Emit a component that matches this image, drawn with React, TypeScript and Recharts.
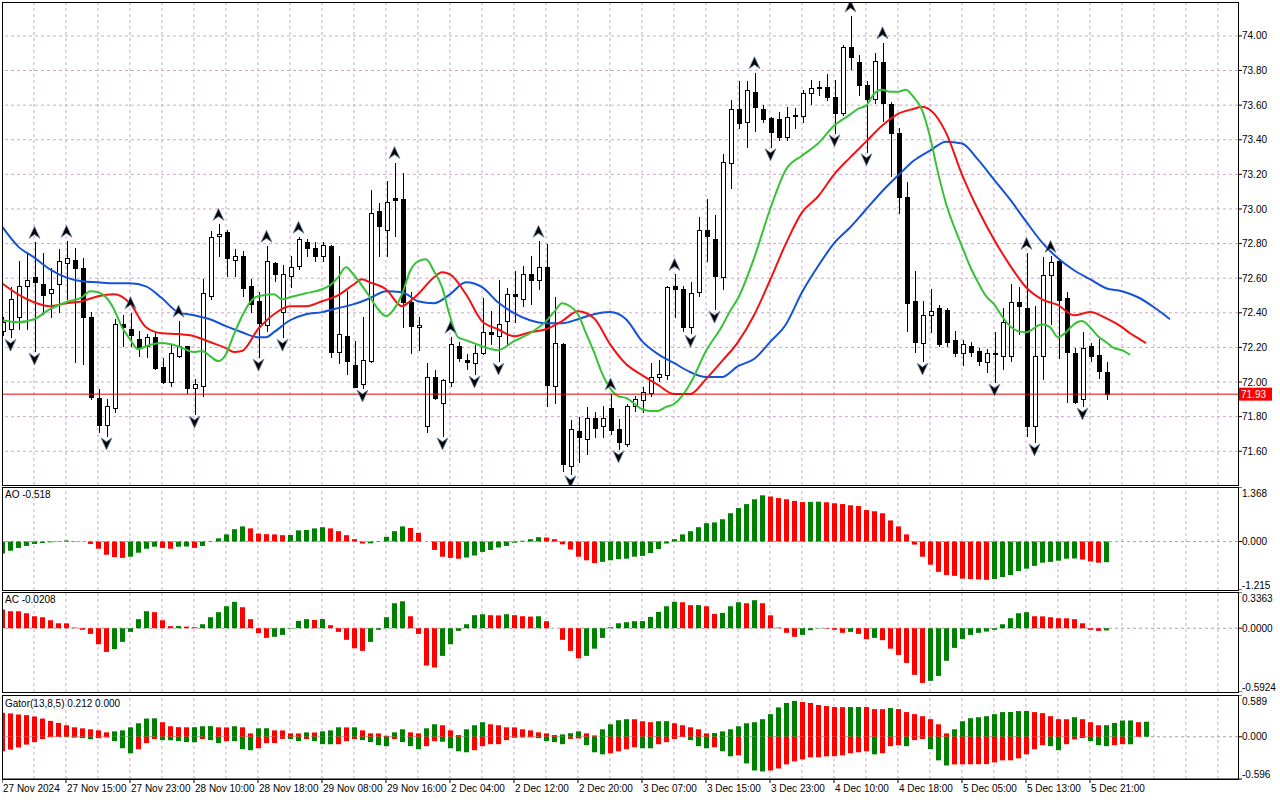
import React from 'react';
import { ComposedChart, Bar, Line, XAxis, YAxis, ReferenceLine, Cell } from 'recharts';

const FONT = '"Liberation Sans", Arial, sans-serif';
const GREEN = '#008000';
const RED = '#ff0000';
const GRID = '#c9a9c9';
const ZERO = '#aaa0aa';

// ---------- candles (one hourly bar per slot) ----------
const open = [
  72.294, 72.305, 72.375, 72.553, 72.605, 72.565, 72.513, 72.565, 72.686, 72.703,
  72.657, 72.375, 71.908, 71.752, 71.850, 72.334, 72.305, 72.248, 72.207, 72.259,
  72.087, 72.000, 72.150, 72.207, 71.965, 71.977, 72.496, 72.841, 72.865, 72.703,
  72.726, 72.553, 72.467, 72.329, 72.686, 72.404, 72.611, 72.669, 72.807, 72.772,
  72.726, 72.784, 72.173, 72.265, 72.098, 71.988, 72.121, 72.986, 72.876, 73.061,
  73.055, 72.461, 72.317, 71.746, 72.029, 71.879, 72.000, 72.207, 72.127, 72.110,
  72.167, 72.288, 72.265, 72.352, 72.507, 72.478, 72.622, 72.588, 72.663, 71.977,
  72.219, 71.516, 71.718, 71.671, 71.792, 71.746, 71.850, 71.729, 71.643, 71.862,
  71.896, 71.937, 72.029, 72.040, 72.553, 72.536, 72.317, 72.519, 72.876, 72.824,
  72.605, 73.268, 73.579, 73.504, 73.677, 73.579, 73.527, 73.522, 73.418, 73.539,
  73.539, 73.671, 73.700, 73.706, 73.648, 73.556, 73.937, 73.850, 73.718, 73.637,
  73.850, 73.608, 73.441, 73.072, 72.467, 72.225, 72.386, 72.427, 72.415, 72.242,
  72.167, 72.207, 72.179, 72.115, 72.167, 72.150, 72.150, 72.461, 72.427, 71.746,
  72.150, 72.617, 72.697, 72.484, 72.167, 71.902, 72.207, 72.156, 72.058,
];
const high = [
  72.375, 72.548, 72.697, 72.743, 72.807, 72.743, 72.657, 72.767, 72.813, 72.772,
  72.715, 72.404, 71.960, 71.902, 72.363, 72.385, 72.400, 72.294, 72.277, 72.288,
  72.138, 72.213, 72.352, 72.207, 72.017, 72.594, 72.870, 72.911, 72.876, 72.767,
  72.755, 72.594, 72.519, 72.784, 72.692, 72.674, 72.726, 72.836, 72.824, 72.807,
  72.807, 72.790, 72.726, 72.525, 72.236, 72.375, 73.112, 73.037, 73.164, 73.268,
  73.210, 72.519, 72.375, 72.110, 72.069, 72.017, 72.259, 72.231, 72.161, 72.213,
  72.484, 72.409, 72.588, 72.542, 72.640, 72.669, 72.726, 72.813, 72.795, 72.490,
  72.225, 71.781, 71.798, 71.856, 71.827, 71.862, 71.931, 71.787, 71.873, 71.919,
  71.971, 72.110, 72.127, 72.553, 72.622, 72.553, 72.576, 72.951, 73.055, 72.963,
  73.320, 73.631, 73.741, 73.741, 73.787, 73.602, 73.533, 73.562, 73.591, 73.585,
  73.689, 73.746, 73.741, 73.781, 73.746, 73.948, 74.115, 73.890, 73.741, 73.902,
  73.960, 73.620, 73.470, 73.158, 72.640, 72.467, 72.536, 72.444, 72.427, 72.294,
  72.242, 72.231, 72.196, 72.190, 72.288, 72.427, 72.565, 72.548, 72.743, 72.438,
  72.720, 72.726, 72.709, 72.519, 72.196, 72.288, 72.225, 72.248, 72.115,
];
const low = [
  72.271, 72.259, 72.305, 72.305, 72.179, 72.392, 72.375, 72.404, 72.478, 72.115,
  72.104, 71.902, 71.712, 71.689, 71.827, 72.207, 72.207, 72.150, 72.144, 72.075,
  71.994, 71.977, 72.144, 71.937, 71.815, 71.919, 72.478, 72.726, 72.611, 72.611,
  72.496, 72.404, 72.144, 72.294, 72.582, 72.259, 72.548, 72.651, 72.726, 72.697,
  72.697, 72.144, 72.110, 72.046, 71.975, 71.965, 72.115, 72.726, 72.726, 72.841,
  72.317, 72.167, 72.184, 71.712, 71.902, 71.689, 71.977, 72.121, 72.075, 72.046,
  72.161, 72.219, 72.121, 72.219, 72.346, 72.438, 72.450, 72.536, 71.862, 71.879,
  71.487, 71.470, 71.539, 71.585, 71.683, 71.683, 71.700, 71.614, 71.630, 71.833,
  71.827, 71.919, 72.006, 72.017, 72.375, 72.294, 72.282, 72.496, 72.697, 72.421,
  72.536, 73.124, 73.470, 73.360, 73.452, 73.504, 73.360, 73.401, 73.401, 73.470,
  73.504, 73.608, 73.660, 73.631, 73.441, 73.545, 73.810, 73.660, 73.331, 73.614,
  73.510, 73.193, 72.974, 72.294, 72.173, 72.121, 72.288, 72.207, 72.207, 72.150,
  72.098, 72.150, 72.098, 72.058, 72.000, 72.075, 72.121, 72.277, 71.689, 71.654,
  72.017, 72.334, 72.138, 71.885, 71.879, 71.862, 72.121, 72.023, 71.902,
];
const close = [
  72.346, 72.478, 72.553, 72.588, 72.576, 72.501, 72.536, 72.697, 72.715, 72.657,
  72.375, 71.913, 71.752, 71.862, 72.334, 72.317, 72.271, 72.202, 72.259, 72.081,
  72.000, 72.167, 72.207, 71.965, 71.988, 72.513, 72.836, 72.853, 72.715, 72.726,
  72.542, 72.450, 72.340, 72.697, 72.622, 72.622, 72.663, 72.824, 72.772, 72.726,
  72.790, 72.173, 72.277, 72.121, 71.971, 72.127, 72.974, 72.899, 73.043, 73.049,
  72.461, 72.323, 72.329, 72.029, 71.908, 72.012, 72.219, 72.138, 72.115, 72.167,
  72.288, 72.277, 72.334, 72.507, 72.496, 72.622, 72.588, 72.663, 71.983, 72.225,
  71.527, 71.729, 71.683, 71.792, 71.735, 71.792, 71.723, 71.654, 71.862, 71.902,
  71.942, 72.029, 72.046, 72.548, 72.536, 72.317, 72.513, 72.876, 72.841, 72.611,
  73.274, 73.579, 73.499, 73.689, 73.591, 73.522, 73.447, 73.418, 73.533, 73.542,
  73.671, 73.700, 73.706, 73.648, 73.556, 73.937, 73.879, 73.718, 73.637, 73.856,
  73.614, 73.441, 73.072, 72.455, 72.231, 72.386, 72.409, 72.219, 72.231, 72.167,
  72.219, 72.173, 72.121, 72.167, 72.161, 72.346, 72.461, 72.438, 71.746, 72.150,
  72.617, 72.692, 72.473, 72.173, 71.885, 72.196, 72.150, 72.063, 71.930,
];

// ---------- fractal bars ----------
const fractalUp = [4, 8, 16, 22, 27, 33, 37, 49, 56, 67, 76, 84, 94, 106, 110, 128, 131];
const fractalDown = [1, 4, 13, 24, 32, 35, 45, 55, 59, 62, 71, 77, 86, 89, 96, 104, 108, 115, 124, 129, 135];

// ---------- Alligator lines [bar, price] ----------
const jawPts: [number, number][] = [
  [0, 72.899], [2, 72.784], [4, 72.72], [6, 72.651], [8, 72.605], [10, 72.582], [12, 72.576], [14, 72.571],
  [16, 72.571], [18, 72.553], [20, 72.484], [22, 72.404], [24, 72.386], [26, 72.363], [28, 72.323], [30, 72.288],
  [32, 72.259], [33, 72.259], [34, 72.288], [36, 72.357], [38, 72.392], [40, 72.404], [42, 72.427], [44, 72.45],
  [46, 72.484], [48, 72.525], [50, 72.519], [52, 72.467], [54, 72.455], [56, 72.507], [58, 72.576], [60, 72.548],
  [62, 72.461], [64, 72.398], [66, 72.357], [68, 72.34], [70, 72.34], [72, 72.363], [74, 72.392], [76, 72.404],
  [78, 72.363], [80, 72.236], [82, 72.161], [84, 72.11], [86, 72.058], [88, 72.029], [90, 72.029], [92, 72.092],
  [94, 72.133], [96, 72.231], [98, 72.334], [100, 72.519], [102, 72.669], [104, 72.801], [106, 72.893], [108, 72.997],
  [110, 73.101], [112, 73.193], [114, 73.28], [116, 73.337], [118, 73.389], [120, 73.378], [122, 73.285], [124, 73.17],
  [126, 73.055], [128, 72.928], [130, 72.807], [132, 72.715], [134, 72.646], [136, 72.594], [138, 72.542], [140, 72.525],
  [142, 72.49], [144, 72.432], [146, 72.363],
];
const teethPts: [number, number][] = [
  [0, 72.571], [2, 72.507], [4, 72.461], [6, 72.438], [8, 72.455], [10, 72.467], [12, 72.496], [14, 72.507],
  [16, 72.455], [18, 72.317], [20, 72.282], [22, 72.277], [24, 72.265], [26, 72.231], [28, 72.196], [29, 72.173],
  [30, 72.179], [32, 72.305], [34, 72.392], [36, 72.438], [38, 72.438], [40, 72.467], [42, 72.501], [44, 72.565],
  [45, 72.594], [46, 72.576], [48, 72.536], [50, 72.438], [51, 72.467], [52, 72.507], [54, 72.605], [55, 72.634],
  [56, 72.622], [58, 72.507], [60, 72.352], [62, 72.305], [64, 72.265], [66, 72.288], [68, 72.305], [70, 72.352],
  [72, 72.409], [74, 72.369], [76, 72.219], [78, 72.104], [80, 72.04], [82, 71.983], [84, 71.931], [86, 71.931],
  [88, 72.017], [90, 72.121], [92, 72.231], [94, 72.386], [96, 72.588], [98, 72.801], [100, 72.98], [102, 73.072],
  [104, 73.199], [106, 73.297], [108, 73.389], [110, 73.481], [112, 73.55], [114, 73.579], [115, 73.591], [116, 73.573],
  [118, 73.441], [120, 73.199], [122, 72.997], [124, 72.824], [126, 72.674], [128, 72.548], [130, 72.478], [132, 72.444],
  [134, 72.386], [136, 72.404], [138, 72.369], [140, 72.317], [141, 72.282], [142, 72.254], [143, 72.225],
];
const lipsPts: [number, number][] = [
  [0, 72.357], [2, 72.346], [4, 72.363], [6, 72.421], [8, 72.461], [10, 72.49], [11, 72.525], [12, 72.519],
  [13, 72.49], [14, 72.421], [15, 72.317], [16, 72.248], [17, 72.19], [18, 72.207], [20, 72.225], [22, 72.207],
  [24, 72.173], [25, 72.179], [26, 72.15], [27, 72.121], [28, 72.161], [29, 72.277], [30, 72.38], [31, 72.461],
  [32, 72.496], [34, 72.507], [35, 72.478], [36, 72.49], [38, 72.513], [40, 72.536], [41, 72.559], [42, 72.605],
  [43, 72.663], [44, 72.617], [46, 72.49], [47, 72.421], [48, 72.38], [49, 72.421], [50, 72.507], [51, 72.64],
  [52, 72.697], [53, 72.709], [54, 72.64], [55, 72.548], [56, 72.38], [57, 72.259], [58, 72.242], [60, 72.207],
  [62, 72.184], [64, 72.236], [66, 72.282], [68, 72.352], [69, 72.404], [70, 72.455], [71, 72.438], [72, 72.392],
  [73, 72.282], [74, 72.173], [75, 72.052], [76, 71.965], [77, 71.919], [78, 71.908], [80, 71.844], [81, 71.833],
  [82, 71.833], [83, 71.856], [84, 71.873], [85, 71.919], [86, 71.988], [88, 72.179], [90, 72.323], [91, 72.409],
  [92, 72.484], [94, 72.715], [96, 72.997], [98, 73.228], [100, 73.308], [102, 73.378], [104, 73.481], [106, 73.545],
  [107, 73.579], [108, 73.597], [109, 73.666], [110, 73.689], [111, 73.677], [112, 73.677], [113, 73.689], [114, 73.643],
  [115, 73.573], [116, 73.418], [117, 73.21], [118, 73.032], [119, 72.899], [120, 72.784], [121, 72.669], [122, 72.576],
  [123, 72.496], [124, 72.45], [125, 72.38], [126, 72.323], [127, 72.294], [128, 72.288], [130, 72.334], [131, 72.317],
  [132, 72.259], [133, 72.288], [134, 72.334], [135, 72.352], [136, 72.317], [137, 72.265], [138, 72.231], [139, 72.196],
  [140, 72.184], [141, 72.156],
];

// ---------- Awesome Oscillator ----------
const ao = [
  -0.30, -0.23, -0.16, -0.11, -0.06, -0.035, -0.02, -0.01, 0.025, 0.01,
  -0.005, -0.06, -0.18, -0.33, -0.39, -0.41, -0.38, -0.28, -0.18, -0.13,
  -0.16, -0.18, -0.13, -0.125, -0.16, -0.11, -0.01, 0.08, 0.18, 0.31,
  0.38, 0.33, 0.20, 0.185, 0.18, 0.16, 0.165, 0.28, 0.29, 0.33,
  0.36, 0.33, 0.26, 0.16, 0.06, -0.05, -0.045, -0.01, 0.12, 0.26,
  0.38, 0.34, 0.22, 0.0, -0.21, -0.38, -0.41, -0.43, -0.40, -0.35,
  -0.26, -0.21, -0.15, -0.11, -0.03, 0.02, 0.06, 0.11, 0.10, 0.06,
  -0.07, -0.20, -0.38, -0.47, -0.54, -0.51, -0.47, -0.44, -0.43, -0.38,
  -0.36, -0.29, -0.19, -0.05, 0.06, 0.18, 0.26, 0.36, 0.46, 0.48,
  0.56, 0.71, 0.84, 0.94, 1.06, 1.16, 1.13, 1.09, 1.06, 1.02,
  0.99, 0.995, 1.0, 0.985, 0.96, 0.94, 0.91, 0.89, 0.79, 0.76,
  0.71, 0.53, 0.38, 0.18, -0.075, -0.38, -0.58, -0.76, -0.84, -0.86,
  -0.93, -0.94, -0.95, -0.96, -0.94, -0.89, -0.84, -0.74, -0.68, -0.61,
  -0.53, -0.51, -0.48, -0.43, -0.425, -0.45, -0.50, -0.53, -0.518,
];

// ---------- Accelerator Oscillator ----------
const ac = [
  0.173, 0.158, 0.157, 0.139, 0.111, 0.102, 0.074, 0.046, 0.045, 0.006,
  -0.015, -0.053, -0.149, -0.22, -0.195, -0.127, -0.034, 0.084, 0.158, 0.149,
  0.074, 0.019, 0.02, 0.015, 0.009, 0.037, 0.102, 0.149, 0.204, 0.245,
  0.195, 0.084, -0.046, -0.09, -0.08, -0.062, -0.004, 0.068, 0.084, 0.077,
  0.085, 0.028, -0.034, -0.108, -0.186, -0.21, -0.127, -0.015, 0.102, 0.232,
  0.25, 0.111, -0.053, -0.347, -0.365, -0.257, -0.149, -0.025, 0.037, 0.121,
  0.13, 0.121, 0.119, 0.13, 0.121, 0.111, 0.108, 0.111, 0.065, 0.0,
  -0.108, -0.21, -0.28, -0.257, -0.19, -0.09, 0.009, 0.046, 0.056, 0.065,
  0.066, 0.105, 0.152, 0.204, 0.245, 0.241, 0.214, 0.215, 0.204, 0.133,
  0.142, 0.204, 0.241, 0.232, 0.26, 0.232, 0.12, 0.006, -0.043, -0.08,
  -0.062, -0.019, -0.003, -0.005, -0.015, -0.043, -0.034, -0.053, -0.102, -0.09,
  -0.111, -0.19, -0.248, -0.322, -0.433, -0.508, -0.489, -0.443, -0.303, -0.183,
  -0.102, -0.062, -0.043, -0.031, -0.015, 0.037, 0.093, 0.139, 0.149, 0.111,
  0.11, 0.102, 0.093, 0.092, 0.084, 0.046, -0.015, -0.025, -0.0208,
];

// ---------- Gator Oscillator ----------
const gatorUpper = [
  0.338, 0.329, 0.314, 0.305, 0.286, 0.257, 0.224, 0.195, 0.162, 0.133,
  0.119, 0.105, 0.09, 0.062, 0.076, 0.09, 0.133, 0.19, 0.257, 0.26,
  0.205, 0.148, 0.135, 0.133, 0.135, 0.148, 0.15, 0.133, 0.132, 0.148,
  0.133, 0.048, 0.119, 0.12, 0.09, 0.089, 0.048, 0.047, 0.062, 0.06,
  0.076, 0.09, 0.133, 0.132, 0.133, 0.09, 0.048, 0.047, 0.014, 0.062,
  0.105, 0.062, 0.048, 0.119, 0.176, 0.162, 0.09, 0.024, 0.105, 0.162,
  0.205, 0.176, 0.162, 0.133, 0.132, 0.105, 0.09, 0.062, 0.048, 0.024,
  0.033, 0.05, 0.076, 0.048, 0.019, 0.105, 0.176, 0.233, 0.248, 0.247,
  0.219, 0.205, 0.219, 0.22, 0.19, 0.162, 0.133, 0.105, 0.048, 0.052,
  0.076, 0.105, 0.148, 0.19, 0.205, 0.248, 0.319, 0.414, 0.476, 0.505,
  0.49, 0.476, 0.448, 0.433, 0.419, 0.418, 0.419, 0.42, 0.419, 0.39,
  0.389, 0.405, 0.39, 0.348, 0.319, 0.29, 0.248, 0.176, 0.048, 0.105,
  0.219, 0.262, 0.276, 0.29, 0.319, 0.348, 0.349, 0.362, 0.363, 0.348,
  0.333, 0.29, 0.248, 0.247, 0.276, 0.248, 0.205, 0.162, 0.163, 0.195,
  0.229, 0.23, 0.205, 0.212,
];
const gatorLower = [
  -0.205, -0.181, -0.152, -0.11, -0.076, -0.033, -0.005, -0.003, -0.006, -0.012,
  -0.02, -0.035, -0.02, -0.01, -0.062, -0.162, -0.233, -0.176, -0.09, -0.033,
  -0.048, -0.05, -0.06, -0.076, -0.077, -0.033, -0.048, -0.09, -0.062, -0.063,
  -0.176, -0.19, -0.162, -0.09, -0.089, -0.03, -0.033, -0.062, -0.033, -0.062,
  -0.105, -0.106, -0.105, -0.062, -0.033, -0.048, -0.076, -0.119, -0.133, -0.033,
  -0.076, -0.133, -0.176, -0.133, -0.062, -0.07, -0.162, -0.205, -0.219, -0.19,
  -0.133, -0.105, -0.104, -0.048, -0.015, -0.01, -0.008, -0.02, -0.062, -0.076,
  -0.105, -0.03, -0.024, -0.119, -0.219, -0.248, -0.233, -0.205, -0.176, -0.148,
  -0.162, -0.163, -0.105, -0.076, -0.033, -0.003, -0.048, -0.133, -0.162, -0.148,
  -0.205, -0.276, -0.262, -0.376, -0.476, -0.49, -0.476, -0.448, -0.39, -0.348,
  -0.319, -0.29, -0.289, -0.276, -0.275, -0.262, -0.233, -0.219, -0.205, -0.248,
  -0.233, -0.133, -0.119, -0.133, -0.048, -0.033, -0.176, -0.333, -0.405, -0.39,
  -0.389, -0.388, -0.387, -0.386, -0.362, -0.333, -0.332, -0.305, -0.248, -0.176,
  -0.119, -0.133, -0.19, -0.105, -0.038, -0.019, -0.062, -0.119, -0.133, -0.119,
  -0.105, -0.106,
];

// ---------- axes ----------
const priceTicks = [71.6, 71.8, 72.0, 72.2, 72.4, 72.6, 72.8, 73.0, 73.2, 73.4, 73.6, 73.8, 74.0];
const priceDomain = [71.405, 74.196];
const aoDomain = [-1.215, 1.368];
const acDomain = [-0.5924, 0.3363];
const gatorDomain = [-0.596, 0.589];
const timeLabels = [
  '27 Nov 2024', '27 Nov 15:00', '27 Nov 23:00', '28 Nov 10:00', '28 Nov 18:00', '29 Nov 08:00',
  '29 Nov 16:00', '2 Dec 04:00', '2 Dec 12:00', '2 Dec 20:00', '3 Dec 07:00', '3 Dec 15:00',
  '3 Dec 23:00', '4 Dec 10:00', '4 Dec 18:00', '5 Dec 05:00', '5 Dec 13:00', '5 Dec 21:00',
];

const SLOTS = 155;
const LABEL_STEP = 8;
const GRID_STEP = 4;
const labelKs = timeLabels.map((_, i) => i * LABEL_STEP);
const gridKs = Array.from({ length: Math.floor((SLOTS - 1) / GRID_STEP) }, (_, i) => (i + 1) * GRID_STEP);
const last = close.length - 1;
const lastClose = close[last];

const aoColors = ao.map((v, i) => (i === 0 ? GREEN : v > ao[i - 1] ? GREEN : RED));
const acColors = ac.map((v, i) => (i === 0 ? RED : v > ac[i - 1] ? GREEN : RED));
const guColors = gatorUpper.map((v, i) => (i === 0 ? RED : v > gatorUpper[i - 1] ? GREEN : RED));
const glColors = gatorLower.map((v, i) =>
  i === 0 ? RED : Math.abs(v) > Math.abs(gatorLower[i - 1]) ? GREEN : RED
);

const rows: any[] = Array.from({ length: SLOTS }, (_, k) => {
  const r: any = { k };
  if (k <= last) {
    r.o = open[k];
    r.h = high[k];
    r.l = low[k];
    r.c = close[k];
    r.range = [low[k], high[k]];
    r.ao = ao[k];
    r.ac = ac[k];
    r.fu = fractalUp.includes(k) ? high[k] : null;
    r.fd = fractalDown.includes(k) ? low[k] : null;
  }
  if (k < gatorUpper.length) r.gu = gatorUpper[k];
  if (k < gatorLower.length) r.gl = gatorLower[k];
  return r;
});
jawPts.forEach(([k, v]) => (rows[k].jaw = v));
teethPts.forEach(([k, v]) => (rows[k].teeth = v));
lipsPts.forEach(([k, v]) => (rows[k].lips = v));

// ---------- shapes ----------
const Candle = (props: any) => {
  const { x, y, width, height, payload } = props;
  if (!payload || payload.h == null || !isFinite(y) || !isFinite(height)) return <g />;
  const top = Math.min(y, y + height);
  const span = Math.abs(height);
  const { o, h, l, c } = payload;
  const py = (p: number) => top + ((h - p) / (h - l)) * span;
  const cx = Math.round(x + width / 2);
  const bull = c >= o;
  const bTop = Math.round(py(Math.max(o, c)));
  const bBot = Math.round(py(Math.min(o, c)));
  return (
    <g shapeRendering="crispEdges">
      <line x1={cx + 0.5} x2={cx + 0.5} y1={Math.round(top)} y2={Math.round(top + span) + 1} stroke="#000" strokeWidth={1} />
      {bull ? (
        <rect x={cx - 1.5} y={bTop + 0.5} width={4} height={Math.max(bBot - bTop, 1)} fill="#fff" stroke="#000" strokeWidth={1} />
      ) : (
        <rect x={cx - 2} y={bTop} width={5} height={Math.max(bBot - bTop + 1, 1)} fill="#000" />
      )}
    </g>
  );
};

const FractalMark = (props: any) => {
  const { cx, cy, up } = props;
  if (cx == null || cy == null || !isFinite(cx) || !isFinite(cy)) return <g />;
  const x = Math.round(cx) + 0.5;
  let d;
  if (up) {
    const b = cy - 4;
    d = `M${x},${b - 12} L${x + 5.5},${b} L${x},${b - 4} L${x - 5.5},${b} Z`;
  } else {
    const t = cy + 2;
    d = `M${x},${t + 12} L${x + 5.5},${t} L${x},${t + 4} L${x - 5.5},${t} Z`;
  }
  return <path d={d} fill="#000" stroke="#6d86a8" strokeWidth={0.8} strokeLinejoin="round" />;
};

const PriceTag = (props: any) => {
  const vb = props.viewBox || {};
  const x = (vb.x || 0) + (vb.width || 0);
  const y = vb.y || 0;
  return (
    <g>
      <rect x={x} y={y - 6.5} width={34} height={13} fill={RED} />
      <text x={x + 3} y={y} dy="0.355em" fill="#fff" fontSize={10} fontFamily={FONT}>
        {lastClose.toFixed(2)}
      </text>
    </g>
  );
};

const makeSubTick = (domain: number[], digits: number) => (props: any) => {
  const { x, y, payload } = props;
  const v = payload.value;
  let dy = 0;
  if (v === domain[1]) dy = 6;
  else if (v === domain[0]) dy = -5;
  return (
    <text x={x} y={y + dy} dy="0.355em" fontSize={10} fontFamily={FONT} fill="#000" textAnchor="start">
      {v.toFixed(digits)}
    </text>
  );
};

const XTick = (props: any) => {
  const { x, y, payload } = props;
  const idx = labelKs.indexOf(payload.value);
  return (
    <text x={x + 1} y={y} dy="0.71em" fontSize={10} fontFamily={FONT} fill="#000" textAnchor="start">
      {idx >= 0 ? timeLabels[idx] : ''}
    </text>
  );
};

const CHART_W = 1283;
const AXIS_W = 43;
const M = { top: 0, right: 0, bottom: 0, left: 0 };

const vGrid = () =>
  gridKs.map((k) => (
    <ReferenceLine key={'v' + k} x={k} stroke={GRID} strokeDasharray="3 3" strokeWidth={1} zIndex={-50} />
  ));

const yAxisCommon = {
  orientation: 'right' as const,
  width: AXIS_W,
  allowDataOverflow: true,
  tickSize: 4,
  tickMargin: 0,
  axisLine: false,
  tickLine: { stroke: '#000' },
  interval: 0 as const,
};

function SubPane({ top, height, dataKey, colors, domain, digits }: any) {
  return (
    <div style={{ position: 'absolute', left: -2, top }}>
      <ComposedChart width={CHART_W} height={height} data={rows} margin={M}>
        <XAxis dataKey="k" type="category" hide />
        <YAxis {...yAxisCommon} domain={domain} ticks={[domain[0], 0, domain[1]]} tick={makeSubTick(domain, digits)} />
        {vGrid()}
        <ReferenceLine y={0} stroke={ZERO} strokeDasharray="3 3" zIndex={-50} />
        <Bar dataKey={dataKey} barSize={5} isAnimationActive={false}>
          {rows.map((r, i) => (
            <Cell key={i} fill={colors[i] || GREEN} />
          ))}
        </Bar>
      </ComposedChart>
    </div>
  );
}

export default function App() {
  const frames = [
    { top: 2, height: 484 },
    { top: 487, height: 104 },
    { top: 592, height: 101 },
    { top: 695, height: 85 },
  ];
  const textStyle: React.CSSProperties = {
    position: 'absolute',
    left: 5,
    fontFamily: FONT,
    fontSize: 10,
    lineHeight: '12px',
    color: '#000',
    whiteSpace: 'nowrap',
  };
  return (
    <div style={{ position: 'absolute', left: 0, top: 0, width: 1280, height: 800, background: '#fff', overflow: 'hidden' }}>
      {/* main price pane */}
      <div style={{ position: 'absolute', left: -2, top: 2 }}>
        <ComposedChart width={CHART_W} height={483} data={rows} margin={M}>
          <XAxis dataKey="k" type="category" hide />
          <YAxis
            {...yAxisCommon}
            domain={priceDomain}
            ticks={priceTicks}
            tickFormatter={(v: number) => v.toFixed(2)}
            tick={{ fontSize: 10, fill: '#000', fontFamily: FONT }}
          />
          {priceTicks.map((p) => (
            <ReferenceLine key={'h' + p} y={p} stroke={GRID} strokeDasharray="3 3" zIndex={-50} />
          ))}
          {vGrid()}
          <Bar dataKey="range" barSize={5} shape={Candle} isAnimationActive={false} />
          <Line dataKey="jaw" type="monotone" stroke="#1452d8" strokeWidth={2} dot={false} activeDot={false} connectNulls isAnimationActive={false} />
          <Line dataKey="teeth" type="monotone" stroke="#f21212" strokeWidth={2} dot={false} activeDot={false} connectNulls isAnimationActive={false} />
          <Line dataKey="lips" type="monotone" stroke="#36c236" strokeWidth={2} dot={false} activeDot={false} connectNulls isAnimationActive={false} />
          <ReferenceLine y={lastClose} stroke="#e80000" strokeWidth={1} label={<PriceTag />} />
          <Line
            dataKey="fu"
            stroke="none"
            activeDot={false}
            isAnimationActive={false}
            dot={(p: any) => <FractalMark key={'fu' + p.index} {...p} up />}
          />
          <Line
            dataKey="fd"
            stroke="none"
            activeDot={false}
            isAnimationActive={false}
            dot={(p: any) => <FractalMark key={'fd' + p.index} {...p} />}
          />
        </ComposedChart>
      </div>

      <SubPane top={487} height={103} dataKey="ao" colors={aoColors} domain={aoDomain} digits={3} />
      <SubPane top={592} height={100} dataKey="ac" colors={acColors} domain={acDomain} digits={4} />

      {/* gator pane with time axis */}
      <div style={{ position: 'absolute', left: -2, top: 695 }}>
        <ComposedChart width={CHART_W} height={84 + 22} data={rows} margin={M} stackOffset="sign">
          <XAxis
            dataKey="k"
            type="category"
            ticks={labelKs}
            interval={0}
            tickSize={4}
            tickMargin={2}
            height={22}
            axisLine={{ stroke: '#000' }}
            tickLine={{ stroke: '#000' }}
            tick={XTick}
          />
          <YAxis {...yAxisCommon} domain={gatorDomain} ticks={[gatorDomain[0], 0, gatorDomain[1]]} tick={makeSubTick(gatorDomain, 3)} />
          {vGrid()}
          <ReferenceLine y={0} stroke={ZERO} strokeDasharray="3 3" zIndex={-50} />
          <Bar dataKey="gu" stackId="g" barSize={5} isAnimationActive={false}>
            {rows.map((r, i) => (
              <Cell key={i} fill={guColors[i] || RED} />
            ))}
          </Bar>
          <Bar dataKey="gl" stackId="g" barSize={5} isAnimationActive={false}>
            {rows.map((r, i) => (
              <Cell key={i} fill={glColors[i] || RED} />
            ))}
          </Bar>
        </ComposedChart>
      </div>

      {/* pane frames */}
      {frames.map((f, i) => (
        <div
          key={i}
          style={{
            position: 'absolute',
            left: 2,
            top: f.top,
            width: 1237,
            height: f.height,
            border: '1px solid #000',
            boxSizing: 'border-box',
            pointerEvents: 'none',
          }}
        />
      ))}
      <div style={{ position: 'absolute', left: 0, top: 0, width: 2, height: 800, background: '#fff' }} />

      <div style={{ ...textStyle, top: 489 }}>{`AO ${ao[last].toFixed(3)}`}</div>
      <div style={{ ...textStyle, top: 594 }}>{`AC ${ac[last].toFixed(4)}`}</div>
      <div style={{ ...textStyle, top: 698 }}>{`Gator(13,8,5) ${gatorUpper[gatorUpper.length - 1].toFixed(3)} 0.000`}</div>
    </div>
  );
}
